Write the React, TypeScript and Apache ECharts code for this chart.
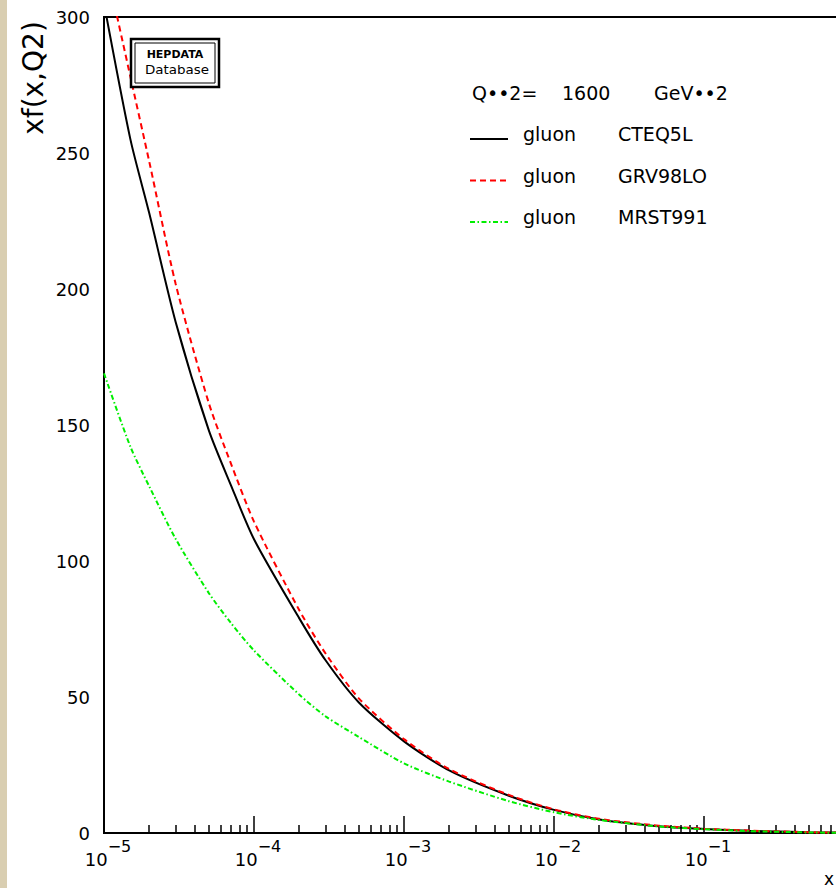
import React, { useEffect, useRef } from "react";
import * as echarts from "echarts";

// ---- data ----
const X_VALUES = [1e-5, 1.5e-5, 2e-5, 3e-5, 5e-5, 7e-5, 1e-4, 2e-4, 3e-4, 5e-4, 1e-3, 2e-3, 5e-3, 1e-2, 2e-2, 5e-2, 0.1, 0.2, 0.5, 1];
const CTEQ5L = [305, 255, 228, 188, 148, 128, 108, 79, 63.5, 48, 33.7, 23, 13.7, 8.5, 5, 2.5, 1.5, 0.8, 0.3, 0.05];
const GRV98LO = [322, 278, 247, 202, 158, 136, 114.5, 82, 66, 49.5, 34.5, 23.5, 14, 8.7, 5.2, 2.7, 1.6, 0.9, 0.3, 0.05];
const MRST991 = [169, 142, 127.5, 108.2, 88.2, 77.3, 67.1, 50.9, 42.9, 35.3, 25.6, 18.9, 11.7, 7.6, 4.8, 2.4, 1.4, 0.7, 0.2, 0.02];
const SERIES_NAMES = ["CTEQ5L", "GRV98LO", "MRST991"];
const PARTON = "gluon";
const Y_TICKS = { min: 0, max: 300, interval: 50 };
const X_DECADES = [-5, -4, -3, -2, -1];
const MINOR_FACTORS = [2, 3, 4, 5, 6, 7, 8, 9];
const HEADER = ["Q••2=", "1600", "GeV••2"];
const Y_NAME = "xf(x,Q2)";
const X_NAME = "x";

const FONT = "DejaVu Sans";
const STYLES = [
  { color: "#000000", dash: null as number[] | null },
  { color: "#ff0000", dash: [6, 4] },
  { color: "#00ee00", dash: [5, 2.5, 1.5, 2.5] },
];

export default function App() {
  const ref = useRef<HTMLDivElement>(null);
  useEffect(() => {
    document.body.style.margin = "0";
    const chart = echarts.init(ref.current!, null, { renderer: "svg" });
    const pairs = (ys: number[]) => X_VALUES.map((x, i) => [x, ys[i]]);
    const minorTicks: number[] = [];
    X_DECADES.forEach((d) => MINOR_FACTORS.forEach((k) => minorTicks.push(d + Math.log10(k))));
    const allSeries = [CTEQ5L, GRV98LO, MRST991];

    const legendGraphics: any[] = [];
    SERIES_NAMES.forEach((name, i) => {
      const yLine = 139 + i * 41.5;
      const yText = yLine - 5;
      const st = STYLES[i];
      legendGraphics.push({
        type: "line",
        shape: { x1: 470, y1: yLine, x2: 508, y2: yLine },
        style: { stroke: st.color, lineWidth: 2, lineDash: st.dash || undefined },
      });
      legendGraphics.push({
        type: "text", x: 523, y: yText,
        style: { text: PARTON, fontFamily: FONT, fontSize: 19, fill: "#000", verticalAlign: "middle" },
      });
      legendGraphics.push({
        type: "text", x: 618, y: yText,
        style: { text: name, fontFamily: FONT, fontSize: 19, fill: "#000", verticalAlign: "middle" },
      });
    });

    const option: any = {
      animation: false,
      backgroundColor: "#ffffff",
      grid: {
        left: 104,
        top: 17,
        width: 750,
        height: 816,
        show: true,
        borderColor: "#000",
        borderWidth: 2,
        backgroundColor: "#fff",
      },
      xAxis: [
        {
          type: "log",
          logBase: 10,
          min: 1e-5,
          max: 1,
          axisLine: { show: true, lineStyle: { color: "#000", width: 2 } },
          axisTick: { show: true, inside: true, length: 17, lineStyle: { color: "#000", width: 1.5 } },
          minorTick: { show: false },
          splitLine: { show: false },
          axisLabel: {
            margin: 5,
            color: "#000",
            formatter: (v: number) => {
              const e = Math.round(Math.log10(v));
              if (e === 0) return "";
              return "{b|10}{s|" + (e < 0 ? "\u2212" : "") + Math.abs(e) + "}";
            },
            rich: {
              b: { fontFamily: FONT, fontSize: 18, color: "#000", lineHeight: 30, verticalAlign: "bottom", padding: [0, 0, 0, 8] },
              s: { fontFamily: FONT, fontSize: 16, color: "#000", verticalAlign: "top" },
            },
          },
        },
        {
          type: "value",
          min: -5,
          max: 0,
          position: "bottom",
          axisLine: { show: false },
          axisLabel: { show: false },
          splitLine: { show: false },
          axisTick: {
            show: true,
            inside: true,
            length: 8,
            customValues: minorTicks,
            lineStyle: { color: "#000", width: 1.5 },
          },
        },
      ],
      yAxis: {
        type: "value",
        min: Y_TICKS.min,
        max: Y_TICKS.max,
        interval: Y_TICKS.interval,
        axisLine: { show: true, lineStyle: { color: "#000", width: 2 } },
        axisTick: { show: true, inside: true, length: 15, lineStyle: { color: "#000", width: 1.5 } },
        minorTick: { show: true, splitNumber: 5, length: 7, lineStyle: { color: "#000", width: 1.5 } },
        splitLine: { show: false },
        minorSplitLine: { show: false },
        axisLabel: { margin: 14, color: "#000", fontFamily: FONT, fontSize: 18 },
      },
      series: allSeries.map((ys, i) => ({
        name: SERIES_NAMES[i],
        type: "line",
        data: pairs(ys),
        symbol: "none",
        smooth: 0.25,
        lineStyle: { color: STYLES[i].color, width: 2, type: STYLES[i].dash || "solid" },
        itemStyle: { color: STYLES[i].color },
      })),
      graphic: [
        { type: "rect", shape: { x: 0, y: 0, width: 7, height: 888 }, style: { fill: "#d9ceb1" }, z: 100 },
        {
          type: "text",
          x: 33,
          y: 78,
          rotation: Math.PI / 2,
          style: { text: Y_NAME, fontFamily: FONT, fontSize: 28, fill: "#000", align: "center", verticalAlign: "middle" },
        },
        {
          type: "text",
          x: 829,
          y: 879,
          style: { text: X_NAME, fontFamily: FONT, fontSize: 17, fill: "#000", align: "center", verticalAlign: "middle" },
        },
        { type: "rect", shape: { x: 131, y: 39, width: 88, height: 48 }, style: { fill: "#fff", stroke: "#000", lineWidth: 2.5 }, z: 50 },
        { type: "rect", shape: { x: 135, y: 43, width: 80, height: 40 }, style: { fill: "none", stroke: "#000", lineWidth: 1 }, z: 51 },
        {
          type: "text", x: 175, y: 54, z: 52,
          style: { text: "HEPDATA", fontFamily: FONT, fontWeight: "bold", fontSize: 11, fill: "#000", align: "center", verticalAlign: "middle" },
        },
        {
          type: "text", x: 177, y: 70, z: 52, scaleX: 1.12,
          style: { text: "Database", fontFamily: FONT, fontSize: 12, fill: "#000", align: "center", verticalAlign: "middle" },
        },
        { type: "text", x: 472, y: 93, style: { text: HEADER[0], fontFamily: FONT, fontSize: 19, fill: "#000", verticalAlign: "middle" } },
        { type: "text", x: 562, y: 93, style: { text: HEADER[1], fontFamily: FONT, fontSize: 19, fill: "#000", verticalAlign: "middle" } },
        { type: "text", x: 654, y: 93, style: { text: HEADER[2], fontFamily: FONT, fontSize: 19, fill: "#000", verticalAlign: "middle" } },
        ...legendGraphics,
      ],
    };
    chart.setOption(option);
    return () => chart.dispose();
  }, []);
  return (
    <div style={{ width: 836, height: 888, overflow: "hidden", position: "relative", background: "#fff" }}>
      <div ref={ref} style={{ width: 880, height: 888 }} />
    </div>
  );
}
